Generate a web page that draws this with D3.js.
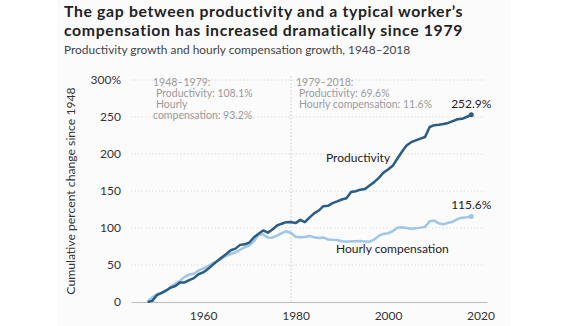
<!DOCTYPE html>
<html>
<head>
<meta charset="utf-8">
<script src="https://cdn.jsdelivr.net/npm/d3@7"></script>
<style>
  html, body { margin: 0; padding: 0; background: #fff; }
  svg { display: block; font-family: Lato, "Open Sans", sans-serif; }
</style>
</head>
<body>
<svg id="chart" width="565" height="326"></svg>
<script>
// Cumulative % change since 1948, yearly 1948-2018
const years = d3.range(1948, 2019);
const productivity = [
  0, 1.5, 9.3, 12.4, 15.6, 19.5, 21.6, 26.4, 26.4, 29.4,
  32.3, 37.5, 40.0, 44.4, 49.8, 55.0, 60.0, 64.9, 70.0, 72.1,
  77.2, 77.9, 80.4, 87.5, 92.3, 96.7, 93.7, 97.9, 103.4, 105.8,
  107.9, 108.1, 106.6, 111.0, 107.9, 114.1, 119.7, 123.6, 129.5, 130.0,
  133.7, 135.9, 138.5, 140.2, 148.6, 149.7, 151.8, 152.6, 157.5, 162.0,
  167.8, 174.8, 179.0, 184.0, 193.5, 203.0, 211.5, 216.0, 218.5, 220.8,
  223.0, 236.5, 239.0, 239.5, 240.5, 242.0, 244.5, 247.0, 247.5, 250.0,
  252.9
];
const compensation = [
  0, 6.3, 10.5, 11.8, 15.0, 20.8, 24.5, 28.7, 33.9, 37.1,
  38.2, 42.5, 45.3, 48.0, 52.5, 55.0, 58.5, 62.5, 64.9, 66.9,
  70.6, 74.0, 76.6, 82.0, 91.2, 91.3, 87.0, 86.9, 89.7, 93.1,
  95.6, 93.2, 88.2, 87.4, 87.9, 89.3, 87.6, 86.5, 87.3, 84.6,
  84.0, 83.7, 82.2, 81.3, 82.1, 82.2, 82.3, 81.9, 81.5, 84.3,
  89.4, 92.0, 92.9, 95.6, 100.2, 101.0, 100.0, 99.0, 99.5, 100.5,
  101.5, 109.0, 110.0, 106.0, 105.0, 107.0, 108.5, 112.0, 114.0, 114.5,
  115.6
];
const yTicks = [0, 50, 100, 150, 200, 250, 300];
const xTicks = [1960, 1980, 2000, 2020];
const splitYear = 1979;
// [text, indent]
const notesEarly = [["1948–1979:", 0], ["Productivity: 108.1%", 3], ["Hourly", 3], ["compensation: 93.2%", 0]];
const notesLate = [["1979–2018:", 0], ["Productivity: 69.6%", 3], ["Hourly compensation: 11.6%", 3]];

const DARK = "#2a5d86";
const LIGHT = "#9fc6e6";

const svg = d3.select("#chart");

// faint card behind the chart
svg.append("rect")
  .attr("x", 57).attr("y", 0).attr("width", 454).attr("height", 326)
  .attr("fill", "#fbfbfc");

// heading
const head = svg.append("g").attr("fill", "#222").attr("font-weight", 700)
  .attr("font-size", 15.8).attr("letter-spacing", 0.65);
head.append("text").attr("x", 64).attr("y", 16.5).text("The gap between productivity and a typical worker’s");
head.append("text").attr("x", 64).attr("y", 36).text("compensation has increased dramatically since 1979");
svg.append("text").attr("x", 64).attr("y", 54)
  .attr("font-size", 11.9).attr("fill", "#444")
  .text("Productivity growth and hourly compensation growth, 1948–2018");

const x = d3.scaleLinear().domain([1944.4, 2021.4]).range([131, 487]);
const y = d3.scaleLinear().domain([0, 300]).range([302, 80]);

// gridlines
svg.append("g").selectAll("line")
  .data(yTicks.filter(d => d > 0))
  .join("line")
  .attr("x1", 131).attr("x2", 485)
  .attr("y1", d => y(d)).attr("y2", d => y(d))
  .attr("stroke", "#dcdcdc").attr("stroke-width", 1)
  .attr("stroke-dasharray", "1.5,2");

// y axis labels
const yAxis = svg.append("g")
  .attr("transform", `translate(${x.range()[0]},0)`)
  .call(d3.axisLeft(y).tickValues(yTicks).tickSize(0).tickPadding(10)
    .tickFormat(d => d === 300 ? "300%" : d));
yAxis.select(".domain").remove();
yAxis.selectAll("text").attr("font-family", "Lato, sans-serif").attr("font-size", 12).attr("fill", "#333");

// x axis
const xAxis = svg.append("g")
  .attr("transform", `translate(0,${y(0)})`)
  .call(d3.axisBottom(x).tickValues(xTicks).tickSize(0).tickPadding(9).tickFormat(d3.format("d")));
xAxis.select(".domain").attr("stroke", "#bbb");
xAxis.selectAll("text").attr("font-family", "Lato, sans-serif").attr("font-size", 12).attr("fill", "#333");

svg.append("text")
  .attr("transform", `translate(75,${y(150)}) rotate(-90)`)
  .attr("text-anchor", "middle")
  .attr("font-size", 12.2).attr("fill", "#333")
  .text("Cumulative percent change since 1948");

// 1979 divider
svg.append("line")
  .attr("x1", x(splitYear)).attr("x2", x(splitYear))
  .attr("y1", 76).attr("y2", y(0))
  .attr("stroke", "#c8c8c8").attr("stroke-dasharray", "1.5,2");

// period notes
function notes(lines, x0, y0) {
  svg.append("g").selectAll("text")
    .data(lines).join("text")
    .attr("x", d => x0 + d[1]).attr("y", (d, i) => y0 + i * 11)
    .attr("font-size", 10.5).attr("fill", "#9a9a9a")
    .text(d => d[0]);
}
notes(notesEarly, 153, 86);
notes(notesLate, 296, 86);

const line = d3.line().x((d, i) => x(years[i])).y(d => y(d));

svg.append("path").datum(compensation)
  .attr("d", line).attr("fill", "none")
  .attr("stroke", LIGHT).attr("stroke-width", 2.5).attr("stroke-linejoin", "round");
svg.append("path").datum(productivity)
  .attr("d", line).attr("fill", "none")
  .attr("stroke", DARK).attr("stroke-width", 2.5).attr("stroke-linejoin", "round");

const last = years.length - 1;
svg.append("circle").attr("cx", x(years[last])).attr("cy", y(compensation[last])).attr("r", 2.5).attr("fill", LIGHT);
svg.append("circle").attr("cx", x(years[last])).attr("cy", y(productivity[last])).attr("r", 2.5).attr("fill", DARK);

// series labels
const lab = svg.append("g").attr("font-size", 12).attr("fill", "#222");
lab.append("text").attr("x", x(years[last])).attr("y", y(productivity[last]) - 7)
  .attr("text-anchor", "middle").text(productivity[last].toFixed(1) + "%");
lab.append("text").attr("x", x(years[last])).attr("y", y(compensation[last]) - 7)
  .attr("text-anchor", "middle").text(compensation[last].toFixed(1) + "%");
lab.append("text").attr("x", 326).attr("y", 162).text("Productivity");
lab.append("text").attr("x", 336).attr("y", 253).text("Hourly compensation");
</script>
</body>
</html>
